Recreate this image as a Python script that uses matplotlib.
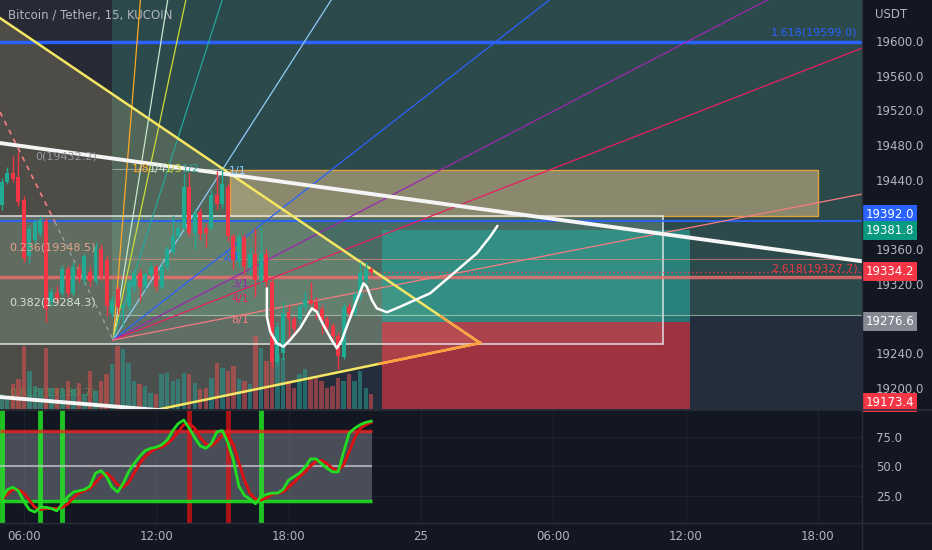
import numpy as np
import matplotlib.pyplot as plt
from matplotlib.patches import Rectangle, Polygon
from matplotlib.lines import Line2D

# ---- candles: BTC/USDT 15m, first bar at 05:00 (hours from 24th 00:00)
bar_start = 5.0
bar_step = 0.25
opens = [19411, 19438, 19448, 19443, 19417, 19352, 19371, 19379, 19392, 19299,
         19310, 19310, 19337, 19310, 19337, 19325, 19334, 19323, 19360, 19348,
         19287, 19314, 19292, 19294, 19317, 19333, 19317, 19331, 19339, 19317,
         19339, 19357, 19375, 19385, 19432, 19379, 19403, 19385, 19385, 19423,
         19412, 19432, 19375, 19345, 19374, 19339, 19354, 19325, 19354, 19322,
         19230, 19240, 19288, 19279, 19279, 19293, 19302, 19299, 19291, 19279,
         19271, 19260, 19236, 19293, 19287, 19306, 19325, 19337]
highs = [19442, 19455, 19468, 19472, 19421, 19388, 19395, 19398, 19396, 19315,
         19318, 19342, 19341, 19345, 19343, 19356, 19340, 19368, 19366, 19352,
         19306, 19318, 19298, 19326, 19336, 19337, 19334, 19345, 19342, 19344,
         19364, 19400, 19392, 19448, 19448, 19406, 19408, 19390, 19428, 19450,
         19452, 19436, 19378, 19378, 19378, 19362, 19385, 19386, 19360, 19328,
         19276, 19300, 19296, 19283, 19297, 19312, 19322, 19305, 19296, 19283,
         19275, 19264, 19298, 19298, 19312, 19345, 19345, 19340]
lows = [19405, 19435, 19438, 19410, 19345, 19344, 19366, 19375, 19276, 19294,
        19298, 19306, 19305, 19306, 19322, 19320, 19318, 19320, 19325, 19283,
        19282, 19285, 19270, 19290, 19312, 19300, 19313, 19328, 19312, 19314,
        19336, 19354, 19372, 19382, 19375, 19360, 19371, 19362, 19382, 19405,
        19408, 19370, 19337, 19340, 19330, 19330, 19305, 19320, 19316, 19224,
        19226, 19232, 19258, 19262, 19270, 19289, 19296, 19280, 19262, 19264,
        19254, 19222, 19233, 19282, 19283, 19302, 19320, 19330]
closes = [19437, 19448, 19441, 19414, 19350, 19383, 19391, 19394, 19291, 19311,
          19302, 19337, 19310, 19340, 19328, 19352, 19323, 19363, 19329, 19294,
          19302, 19293, 19296, 19322, 19333, 19316, 19331, 19340, 19317, 19340,
          19360, 19375, 19385, 19432, 19379, 19402, 19377, 19379, 19423, 19412,
          19435, 19375, 19348, 19374, 19339, 19355, 19325, 19354, 19322, 19230,
          19270, 19287, 19279, 19268, 19293, 19302, 19297, 19289, 19277, 19270,
          19260, 19237, 19293, 19287, 19308, 19333, 19337, 19334.2]
volumes = [15, 12, 25, 30, 63, 38, 23, 21, 61, 21, 21, 20, 28, 20, 26, 15, 38, 18,
           28, 35, 45, 63, 60, 46, 28, 25, 23, 16, 15, 35, 36, 28, 30, 36, 35, 26,
           20, 21, 31, 46, 41, 38, 43, 30, 28, 25, 73, 61, 48, 55, 55, 51, 28, 21,
           35, 40, 30, 31, 28, 21, 23, 31, 28, 35, 28, 38, 21, 15]

# ---- Stoch RSI pane
stoch_k = [22, 30, 32, 29, 20, 13, 11, 15, 15, 14, 12, 18, 24, 28, 29, 30, 33, 44,
           46, 41, 32, 28, 35, 45, 52, 58, 63, 65, 66, 68, 72, 80, 86, 89, 82, 74,
           67, 65, 69, 79, 80, 70, 55, 33, 25, 22, 18, 24, 26, 27, 27, 30, 38, 41,
           44, 49, 56, 56, 52, 48, 45, 45, 62, 78, 82, 85, 87, 88]
stoch_d = [22, 26, 30, 30, 27, 21, 15, 13, 14, 14, 14, 15, 18, 23, 27, 29, 31, 36,
           41, 44, 40, 34, 32, 36, 44, 52, 58, 62, 65, 66, 69, 73, 79, 85, 86, 82,
           74, 69, 67, 71, 76, 76, 68, 53, 38, 27, 22, 21, 23, 26, 27, 28, 32, 36,
           41, 45, 50, 54, 55, 52, 48, 46, 51, 62, 74, 82, 85, 87]
cross_up_bars = [0, 7, 11, 47]
cross_down_bars = [34, 41]
band_upper, band_mid, band_lower = 80, 50, 20

# ---- axes
x_min, x_max = 4.92, 44.0
p_min, p_max = 19175.8, 19647.3
price_ticks = [19200, 19240, 19320, 19360, 19440, 19480, 19520, 19560, 19600]
time_ticks = [6, 12, 18, 24, 30, 36, 42]
time_labels = ['06:00', '12:00', '18:00', '25', '06:00', '12:00', '18:00']
osc_ticks = [25, 50, 75]

# ---- drawings (time in hours, price in USDT)
fan_origin = (10.05, 19255.3)
fan_unit = 39.65
fan_ratios = [8, 4, 3, 2, 1, 1 / 2, 1 / 3, 1 / 4, 1 / 8]
fan_names = ['1/8', '1/4', '1/3', '1/2', '1/1', '2/1', '3/1', '4/1', '8/1']
fan_colors = ['#ffa726', '#c8e6c9', '#cddc39', '#26a69a', '#90caf9',
              '#2962ff', '#9c27b0', '#e91e63', '#f77c80']
fan_label_pos = [(11.3, 19452), (12.05, 19452), (12.8, 19452), (13.55, 19452),
                 (15.7, 19450), (15.4, 19351), (15.8, 19320), (15.8, 19303),
                 (15.8, 19278)]
tri_upper = [(4.92, 19626.5), (26.69, 19251.9)]
tri_lower = [(12.40, 19176.9), (26.69, 19251.9)]
trend_top = [(4.92, 19482.4), (43.92, 19346.4)]
trend_bottom = [(4.92, 19189.6), (11.5, 19175.8)]
dash_red = [(4.92, 19518.2), (7.41, 19391.4)]
dash_gray = [(7.41, 19391.4), (10.05, 19255.3)]
fib_start = 10.0
fib_zero = 19452.4
fib_236 = 19348.5
fib_382 = 19284.3
ext_1618 = 19599.0
ext_2618 = 19327.7
level_blue = 19392.0
zone_t = (15.35, 42.02)
zone_p = (19398.3, 19451.3)
box_t = (4.5, 35.0)
box_p = (19250.7, 19398.3)
pos_t = (22.25, 36.21)
pos_target, pos_entry, pos_stop = 19381.8, 19276.6, 19173.4
path_t = [17.02, 17.02, 17.17, 17.47, 17.77, 18.07, 18.53, 18.83, 19.06, 19.28,
          19.58, 19.96, 20.19, 20.42, 20.64, 20.87, 21.10, 21.25, 21.40, 21.55,
          21.78, 22.00, 22.46, 23.06, 24.42, 25.48, 26.54, 27.14, 27.47]
path_p = [19314.9, 19282.2, 19264.9, 19251.5, 19247.6, 19255.3, 19269.2, 19282.2,
          19291.9, 19287.9, 19272.6, 19255.3, 19245.8, 19255.3, 19270.7, 19286.1,
          19301.4, 19311.0, 19320.7, 19316.8, 19301.4, 19291.9, 19287.3, 19293.7,
          19309.2, 19332.2, 19355.3, 19374.4, 19386.8]

BG = '#131722'
TXT = '#b2b5be'
UP, DOWN = '#22ab94', '#f23645'

fig = plt.figure(figsize=(9.32, 5.5), dpi=100, facecolor=BG)
ax = fig.add_axes([0, 141 / 550, 862 / 932, 409 / 550], facecolor=BG)
ax2 = fig.add_axes([0, 27 / 550, 862 / 932, 113 / 550], facecolor=BG, sharex=ax)

t = bar_start + bar_step * np.arange(len(closes))

# background regions
ax.add_patch(Rectangle((x_min - 1, p_min - 50), fib_start - x_min + 1, 600,
                       color='#787b86', alpha=0.2, lw=0, zorder=0.2))
ax.add_patch(Rectangle((fib_start, fib_382), x_max + 1 - fib_start, 400,
                       color='#5fb3a0', alpha=0.33, lw=0, zorder=0.2))
ax.add_patch(Rectangle((fib_start, p_min - 50), x_max + 1 - fib_start, fib_382 - p_min + 50,
                       color='#6a8aa8', alpha=0.2, lw=0, zorder=0.2))


def extend(seg, t_new):
    (t0, p0), (t1, p1) = seg
    return p0 + (p1 - p0) / (t1 - t0) * (t_new - t0)


tri = [(4.0, extend(tri_upper, 4.0)), tri_upper[1], (4.0, extend(tri_lower, 4.0))]
ax.add_patch(Polygon(tri, closed=True, color='#d9c98a', alpha=0.22, lw=0, zorder=0.3))

ax.add_patch(Rectangle((box_t[0], box_p[0]), box_t[1] - box_t[0], box_p[1] - box_p[0],
                       facecolor='#9ccfae', alpha=0.25, lw=0, zorder=0.4))
ax.add_patch(Rectangle((box_t[0], box_p[0]), box_t[1] - box_t[0], box_p[1] - box_p[0],
                       fill=False, edgecolor='#e8ecef', lw=1.2, alpha=0.85, zorder=2))
ax.add_patch(Rectangle((zone_t[0], zone_p[0]), zone_t[1] - zone_t[0], zone_p[1] - zone_p[0],
                       facecolor='#e8c990', alpha=0.5, lw=0, zorder=0.5))
ax.add_patch(Rectangle((zone_t[0], zone_p[0]), zone_t[1] - zone_t[0], zone_p[1] - zone_p[0],
                       fill=False, edgecolor='#e0a040', lw=1, zorder=1.9))

# long position tool
ax.add_patch(Rectangle((pos_t[0], pos_entry), pos_t[1] - pos_t[0], pos_target - pos_entry,
                       color='#26a69a', alpha=0.6, lw=0, zorder=1.2))
ax.add_patch(Rectangle((pos_t[0], pos_stop), pos_t[1] - pos_t[0], pos_entry - pos_stop,
                       color='#f23645', alpha=0.6, lw=0, zorder=1.2))

# volume
vol_scale = (p_max - p_min) / (max(volumes) * 5.6)
vol_colors = ['#26a69a' if c >= o else '#ef5350' for o, c in zip(opens, closes)]
ax.bar(t, np.array(volumes) * vol_scale, bottom=p_min, width=0.2,
       color=vol_colors, alpha=0.5, lw=0, zorder=1.5)

# horizontal levels
ax.axhline(ext_1618, color='#2962ff', lw=2.5, zorder=2)
ax.axhline(level_blue, color='#2962ff', lw=1.5, alpha=0.9, zorder=2)
ax.axhline(ext_2618, color='#f26d6d', lw=2.5, alpha=0.8, zorder=2)
ax.hlines(fib_zero, fib_start, zone_t[0], color='#c9ccd3', lw=0.8, alpha=0.6, zorder=2)
ax.hlines(fib_236, fib_start, x_max, color='#f28b82', lw=0.8, alpha=0.6, zorder=2)
ax.hlines(fib_382, fib_start, x_max, color='#c8e6c9', lw=0.8, alpha=0.6, zorder=2)
ax.hlines(closes[-1], t[-1], x_max, color='#f23645', lw=1, ls=(0, (1, 2)), zorder=2)

# gann fan
for r, c in zip(fan_ratios, fan_colors):
    ax.plot([fan_origin[0], x_max + 2],
            [fan_origin[1], fan_origin[1] + fan_unit * r * (x_max + 2 - fan_origin[0])],
            color=c, lw=0.9, zorder=2)
for name, c, (lt, lp) in zip(fan_names, fan_colors, fan_label_pos):
    ax.text(lt, lp, name, color=c, fontsize=8, ha='center', va='center', zorder=2.5)

# triangle + trend lines
ax.plot([4.0, tri_upper[1][0]], [extend(tri_upper, 4.0), tri_upper[1][1]],
        color='#f5e663', lw=1.8, zorder=2.2)
ax.plot([4.0, tri_lower[1][0]], [extend(tri_lower, 4.0), tri_lower[1][1]],
        color='#f5e663', lw=1.8, zorder=2.2)
ax.plot([22.15, tri_lower[1][0]], [extend(tri_lower, 22.15), tri_lower[1][1]],
        color='#ffa040', lw=1.8, zorder=2.3)
ax.plot([24.9, tri_upper[1][0]], [extend(tri_upper, 24.9), tri_upper[1][1]],
        color='#ffa040', lw=1.5, zorder=2.3)
ax.plot([4.0, x_max + 1], [extend(trend_top, 4.0), extend(trend_top, x_max + 1)],
        color='#f5f5f5', lw=2.8, zorder=2.4)
ax.plot([4.0, 14.0], [extend(trend_bottom, 4.0), extend(trend_bottom, 14.0)],
        color='#f5f5f5', lw=2.8, zorder=2.4)
ax.plot(*zip(*dash_red), color='#f77c80', lw=1.2, ls=(0, (3, 3)), zorder=2.2)
ax.plot(*zip(*dash_gray), color='#b2b5be', lw=1.0, ls=(0, (3, 3)), alpha=0.7, zorder=2.2)

# candles
o, h, l, c = map(np.array, (opens, highs, lows, closes))
cols = np.where(c >= o, UP, DOWN)
ax.vlines(t, l, h, color=cols, lw=1, zorder=3)
ax.bar(t, np.maximum(np.abs(c - o), 1.0), bottom=np.minimum(o, c), width=0.18,
       color=cols, lw=0, zorder=3.1)

# hand-drawn projection
ax.plot(path_t, path_p, color='white', lw=1.8, solid_capstyle='round', zorder=4)

# labels
ax.text(6.5, 19467, '0(19432.2)', color='#9598a1', fontsize=8, va='center', zorder=5)
ax.text(5.35, 19362, '0.236(19348.5)', color='#e0a58f', fontsize=8, va='center', zorder=5)
ax.text(5.35, 19299, '0.382(19284.3)', color='#d5e3d5', fontsize=8, va='center', zorder=5)
ax.text(5.35, 19195, '0.618(19180.7)', color='#4caf50', fontsize=8, va='center',
        alpha=0.6, zorder=1.4)
ax.text(43.8, 19610, '1.618(19599.0)', color='#2962ff', fontsize=8, ha='right',
        va='center', zorder=5)
ax.text(43.8, 19338, '2.618(19327.7)', color='#f23645', fontsize=8, ha='right',
        va='center', zorder=5)
ax.text(5.3, 19630, 'Bitcoin / Tether, 15, KUCOIN', color=TXT, fontsize=8.5,
        va='center', zorder=1.9)

ax.set_xlim(x_min, x_max)
ax.set_ylim(p_min, p_max)
ax.yaxis.tick_right()
ax.set_yticks(price_ticks)
ax.set_yticklabels([f'{v:.1f}' for v in price_ticks])
ax.tick_params(axis='y', length=0, pad=10, labelcolor=TXT, labelsize=8.5)
ax.tick_params(axis='x', length=0, labelbottom=False)
for s in ax.spines.values():
    s.set_visible(False)

# price tags on the scale (pixel nudges keep them from overlapping, as TradingView does)
tag_values = [level_blue, pos_target, closes[-1], pos_entry, pos_stop]
tag_colors = ['#2962ff', '#089981', '#f23645', '#868993', '#f23645']
tag_nudge = [7, 0, 0, 0, 0]
for v, col, dy in zip(tag_values, tag_colors, tag_nudge):
    y = max(v, p_min + 8)
    ax.annotate(f'{v:.1f}', xy=(1.004, y), xycoords=ax.get_yaxis_transform(),
                xytext=(0, dy), textcoords='offset pixels', color='white',
                fontsize=8.5, va='center', ha='left', annotation_clip=False, zorder=6,
                bbox=dict(boxstyle='square,pad=0.25', fc=col, ec='none'))
fig.text(875 / 932, 1 - 14 / 550, 'USDT', color=TXT, fontsize=8.5, va='center')

# oscillator pane
ax2.fill_between([x_min, t[-1] + 0.05], band_lower, band_upper, color='#9598a1',
                 alpha=0.42, lw=0, zorder=1)
ax2.hlines(band_upper, x_min, t[-1] + 0.05, color='#ff1a1a', lw=2.5, alpha=0.7, zorder=2)
ax2.hlines(band_lower, x_min, t[-1] + 0.05, color='#1ee01e', lw=2.5, alpha=0.9, zorder=2)
ax2.hlines(band_mid, x_min, t[-1] + 0.05, color='#c9ccd3', lw=1.5, alpha=0.7, zorder=2)
for b in cross_up_bars:
    ax2.axvline(t[b], color='#22ee22', lw=3.5, alpha=0.8, zorder=1.5)
for b in cross_down_bars:
    ax2.axvline(t[b], color='#ee1111', lw=3.5, alpha=0.7, zorder=1.5)
ax2.plot(t, stoch_d, color='#e01010', lw=2, zorder=3)
ax2.plot(t, stoch_k, color='#22dd22', lw=2, zorder=3.1)
ax2.set_ylim(1.7, 97.5)
ax2.yaxis.tick_right()
ax2.set_yticks(osc_ticks)
ax2.set_yticklabels([f'{v:.1f}' for v in osc_ticks])
ax2.set_xticks(time_ticks)
ax2.set_xticklabels(time_labels)
ax2.tick_params(axis='y', length=0, pad=10, labelcolor=TXT, labelsize=8.5)
ax2.tick_params(axis='x', length=0, pad=5, labelcolor=TXT, labelsize=8.5)
ax2.grid(True, color='#2a2e39', lw=0.6, alpha=0.6)
ax2.set_axisbelow(True)
for s in ax2.spines.values():
    s.set_visible(False)

fig.add_artist(Line2D([0, 1], [1 - 409.5 / 550] * 2, color='#2a2e39', lw=1.2))
fig.add_artist(Line2D([862 / 932] * 2, [0, 1], color='#2a2e39', lw=1))
fig.add_artist(Line2D([0, 1], [27 / 550] * 2, color='#2a2e39', lw=1))

fig.savefig('out.png', dpi=100, facecolor=BG)
